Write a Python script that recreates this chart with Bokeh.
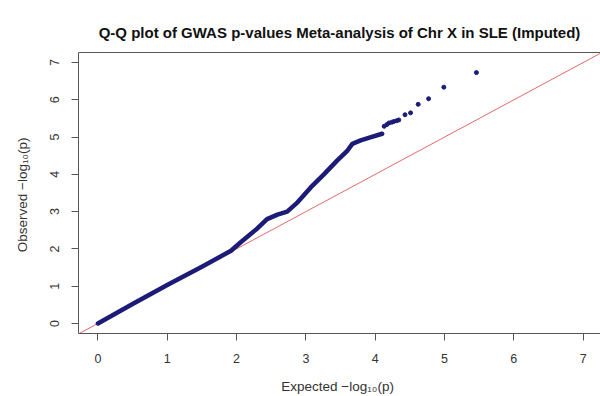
from bokeh.plotting import figure
from bokeh.models import Range1d, FixedTicker, LinearAxis, Slope
from bokeh.embed import file_html
from bokeh.resources import INLINE

title_text = "Q-Q plot of GWAS p-values Meta-analysis of Chr X in SLE (Imputed)"
x_title = "Expected  \u2212log\u2081\u2080(p)"
y_title = "Observed  \u2212log\u2081\u2080(p)"
tick_values = [0, 1, 2, 3, 4, 5, 6, 7]

# Bulk of the SNPs: so many points that they merge into one thick path
bulk_expected = [0.00, 0.50, 1.00, 1.50, 1.92, 2.06, 2.30, 2.44, 2.59, 2.73,
                 2.88, 3.07, 3.26, 3.45, 3.60, 3.67, 3.79, 3.94, 4.10]
bulk_observed = [0.00, 0.52, 1.03, 1.52, 1.95, 2.18, 2.55, 2.80, 2.92, 3.00,
                 3.25, 3.65, 4.00, 4.37, 4.64, 4.82, 4.91, 5.00, 5.09]

# Most significant SNPs, drawn as separate points
tail_expected = [4.13, 4.17, 4.20, 4.24, 4.27, 4.31, 4.34, 4.43, 4.51, 4.62,
                 4.77, 4.99, 5.46]
tail_observed = [5.29, 5.34, 5.38, 5.40, 5.42, 5.44, 5.46, 5.60, 5.65, 5.88,
                 6.03, 6.34, 6.73]

W, H = 600, 396
LEFT, RIGHT, TOP, BOTTOM = 78, 0, 52, 63
X0, X1 = -0.28, 7.25
Y0, Y1 = -0.27, 7.27

FONT = "Liberation Sans"
AXIS_GREY = "#555555"
TEXT_GREY = "#333333"
POINT_BLUE = "#1c1c78"

p = figure(width=W, height=H, output_backend="svg", toolbar_location=None,
           x_range=Range1d(X0, X1), y_range=Range1d(Y0, Y1),
           x_axis_type=None, y_axis_type=None,
           min_border_left=LEFT, min_border_right=RIGHT,
           min_border_top=TOP, min_border_bottom=BOTTOM)
p.outline_line_color = None
p.grid.visible = False
p.background_fill_color = "white"
p.border_fill_color = "white"


def style_axis(ax, ticks):
    ax.ticker = FixedTicker(ticks=ticks)
    ax.axis_line_color = AXIS_GREY
    ax.axis_line_width = 1
    ax.major_tick_line_color = AXIS_GREY
    ax.major_tick_out = 7
    ax.major_tick_in = 0
    ax.minor_tick_line_color = None
    ax.major_label_text_font = FONT
    ax.major_label_text_font_size = "12.5px"
    ax.major_label_text_color = TEXT_GREY
    ax.axis_label_text_font = FONT
    ax.axis_label_text_font_size = "13.5px"
    ax.axis_label_text_font_style = "normal"
    ax.axis_label_text_color = TEXT_GREY


xaxis = LinearAxis(axis_label=x_title)
style_axis(xaxis, tick_values)
xaxis.major_label_standoff = 13
xaxis.axis_label_standoff = 13
p.add_layout(xaxis, "below")

yaxis = LinearAxis(axis_label=y_title)
style_axis(yaxis, tick_values)
yaxis.major_label_orientation = "vertical"
yaxis.major_label_standoff = 12
yaxis.axis_label_standoff = 18
p.add_layout(yaxis, "left")

# top edge of the plot box
topaxis = LinearAxis()
style_axis(topaxis, [])
topaxis.major_tick_out = 0
topaxis.major_label_standoff = 0
topaxis.major_label_text_font_size = "0px"
p.add_layout(topaxis, "above")

p.title.text = title_text
p.title.align = "center"
p.title.text_font = FONT
p.title.text_font_style = "bold"
p.title.text_font_size = "15px"
p.title.text_color = "#111111"
p.title.standoff = 24

# y = x reference line
p.add_layout(Slope(gradient=1, y_intercept=0, line_color="#e46a6a",
                   line_width=1, level="underlay"))

p.line(bulk_expected, bulk_observed, line_width=4.5, line_color=POINT_BLUE,
       line_cap="round", line_join="round")
p.scatter(tail_expected, tail_observed, size=4, marker="circle",
          fill_color=POINT_BLUE, line_color=POINT_BLUE)

open("out.html", "w").write(file_html(p, INLINE))
